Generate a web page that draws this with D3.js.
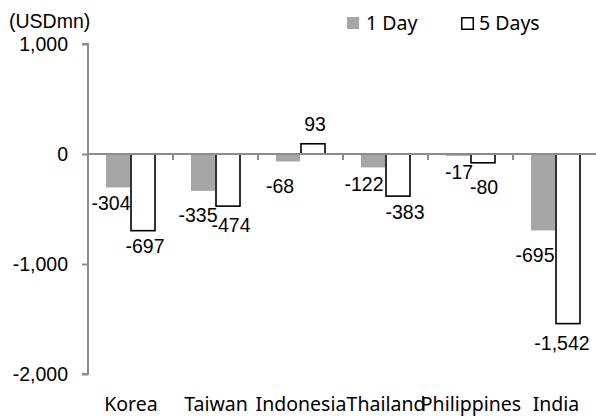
<!DOCTYPE html>
<html>
<head>
<meta charset="utf-8">
<script src="https://cdn.jsdelivr.net/npm/d3@7/dist/d3.min.js"></script>
<style>
  html, body { margin: 0; padding: 0; background: #fff; }
  svg { display: block; }
</style>
</head>
<body>
<svg id="chart" width="596" height="417"></svg>
<script>
// Net foreign flows by market, USD millions
const categories = ["Korea", "Taiwan", "Indonesia", "Thailand", "Philippines", "India"];
const seriesNames = ["1 Day", "5 Days"];
const oneDay = [-304, -335, -68, -122, -17, -695];
const fiveDays = [-697, -474, 93, -383, -80, -1542];
const yTicks = [1000, 0, -1000, -2000];
const unitLabel = "(USDmn)";

// Hand-placed label nudges (dx, dy) to keep neighbouring labels apart
const labelShiftOneDay = [[-7, -1], [-5, 7], [-8, 8], [-9, 0], [1, -1], [-8, 8]];
const labelShiftFiveDays = [[2, -1], [3, 2], [2, -3], [7, -1], [1, 7], [-6, 3]];

const svg = d3.select("#chart");
const numFont = "'Liberation Sans', Arial, sans-serif";
const textFont = "'Noto Sans', 'Open Sans', sans-serif";
const numSize = 19.5;
const textSize = 19.5;
const axisColor = "#8c8c8c";
const greyFill = "#a6a6a6";

const plot = { left: 88, right: 598, top: 44, bottom: 374 };

const x = d3.scaleBand().domain(categories).range([plot.left, plot.right]).padding(0);
const y = d3.scaleLinear().domain([-2000, 1000]).range([plot.bottom, plot.top]);
const barW = 24;
const xs = d3.scaleOrdinal().domain(seriesNames).range([-barW - 0.5, 0.5]);

const rows = categories.map((c, i) => ({
  cat: c,
  values: [
    { s: seriesNames[0], v: oneDay[i], shift: labelShiftOneDay[i] },
    { s: seriesNames[1], v: fiveDays[i], shift: labelShiftFiveDays[i] }
  ]
}));

// Grey bars first, then outlined ones
const groups = svg.append("g").selectAll("g")
  .data(rows).join("g")
  .attr("transform", d => `translate(${x(d.cat) + x.bandwidth() / 2},0)`);

groups.selectAll("rect")
  .data(d => d.values).join("rect")
  .attr("x", d => xs(d.s))
  .attr("y", d => y(Math.max(0, d.v)))
  .attr("width", barW)
  .attr("height", d => Math.abs(y(d.v) - y(0)))
  .attr("fill", d => d.s === seriesNames[0] ? greyFill : "#fff")
  .attr("stroke", d => d.s === seriesNames[0] ? "none" : "#000")
  .attr("stroke-width", 1.6);

// Y axis
const yAxis = d3.axisLeft(y).tickValues(yTicks).tickSize(6).tickPadding(14)
  .tickFormat(d3.format(","));
const yg = svg.append("g").attr("transform", `translate(${plot.left},0)`).call(yAxis);
yg.select(".domain").attr("stroke", axisColor).attr("stroke-width", 2)
  .attr("d", `M-6,${plot.top}H0V${plot.bottom}H-6`);
yg.selectAll(".tick line").attr("stroke", axisColor).attr("stroke-width", 2);
yg.selectAll(".tick text")
  .attr("font-family", numFont).attr("font-size", numSize).attr("fill", "#000")
  .text(d => d3.format(",")(d).replace("−", "-"));

// Zero baseline with category separators
const xAxis = d3.axisBottom(x).tickSize(0).tickFormat("");
const xg = svg.append("g").attr("transform", `translate(0,${y(0)})`).call(xAxis);
xg.select(".domain").attr("stroke", axisColor).attr("stroke-width", 2)
  .attr("d", `M${plot.left},0H${plot.right}`);
xg.selectAll(".tick").remove();
xg.selectAll(".sep")
  .data(categories.slice(1)).join("line")
  .attr("class", "sep")
  .attr("x1", d => x(d)).attr("x2", d => x(d))
  .attr("y1", 0).attr("y2", 6)
  .attr("stroke", axisColor).attr("stroke-width", 2);

// Category labels
svg.append("g").selectAll("text")
  .data(categories).join("text")
  .attr("x", d => x(d) + x.bandwidth() / 2 + 0.5)
  .attr("y", 411)
  .attr("text-anchor", "middle")
  .attr("font-family", textFont).attr("font-size", textSize).attr("fill", "#000")
  .text(d => d);

// Value labels
groups.selectAll("text.val")
  .data(d => d.values).join("text")
  .attr("class", "val")
  .attr("x", d => xs(d.s) + barW / 2 + d.shift[0])
  .attr("y", d => (d.v < 0 ? y(d.v) + 17 : y(d.v) - 17) + d.shift[1])
  .attr("dy", "0.35em")
  .attr("text-anchor", "middle")
  .attr("font-family", numFont).attr("font-size", numSize).attr("fill", "#000")
  .text(d => d3.format(",")(d.v).replace("−", "-"));

// Unit label
svg.append("text")
  .attr("x", 9).attr("y", 28)
  .attr("font-family", numFont).attr("font-size", numSize).attr("fill", "#000")
  .text(unitLabel);

// Legend
const legend = svg.append("g");
const legendX = [347, 461];
seriesNames.forEach((s, i) => {
  const g = legend.append("g").attr("transform", `translate(${legendX[i]},0)`);
  g.append("rect")
    .attr("x", i === 0 ? 0 : 0.75).attr("y", i === 0 ? 17 : 17.75)
    .attr("width", i === 0 ? 12 : 11.5).attr("height", i === 0 ? 12 : 11.5)
    .attr("fill", i === 0 ? greyFill : "#fff")
    .attr("stroke", i === 0 ? "none" : "#000").attr("stroke-width", 1.5);
  g.append("text")
    .attr("x", i === 0 ? 19 : 18).attr("y", 30)
    .attr("font-family", textFont).attr("font-size", textSize).attr("fill", "#000")
    .text(s);
});
</script>
</body>
</html>
